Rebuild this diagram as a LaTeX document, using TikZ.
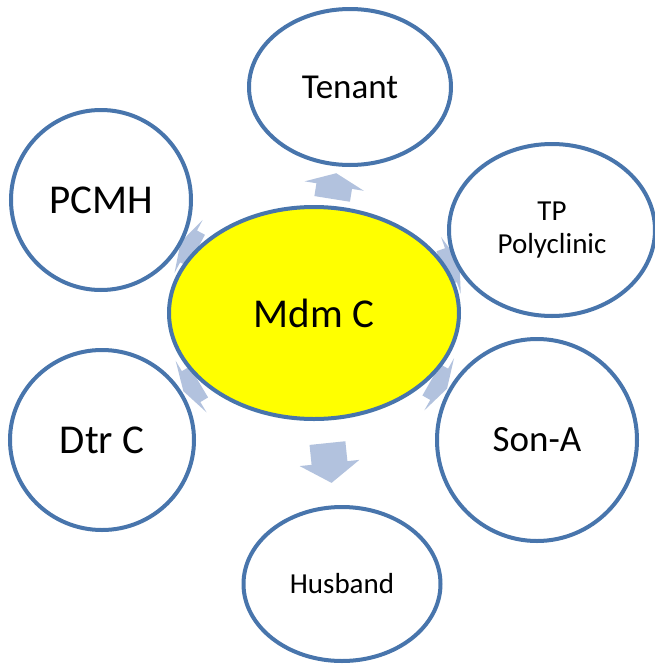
\documentclass[tikz,border=0pt]{standalone}
\usepackage{fontspec}
\setmainfont{Carlito}
\usetikzlibrary{shapes.geometric}
\pgfdeclarelayer{background}
\pgfsetlayers{background,main}

\definecolor{ringblue}{RGB}{72,117,172}
\definecolor{arrowfill}{RGB}{178,194,222}
\definecolor{hubyellow}{RGB}{255,255,0}

\tikzset{
  bubble/.style={ellipse, draw=ringblue, line width=4pt, fill=white,
    inner sep=0pt, align=center, text=black},
  hub/.style={bubble, fill=hubyellow},
  % block arrow pointing along +x, total length #1, centred on the origin
  blockarrow/.pic={
    \fill[arrowfill]
      ({-#1/2},18) -- ({#1/2-#1/2},18) -- ({#1/2-#1/2},30) -- ({#1/2},0)
      -- ({#1/2-#1/2},-30) -- ({#1/2-#1/2},-18) -- ({-#1/2},-18) -- cycle;
  }
}

\begin{document}
\begin{tikzpicture}[x=1pt,y=-1pt]
\begin{pgfonlayer}{background}
  \fill[white] (0,0) rectangle (655,667);
\end{pgfonlayer}
\useasboundingbox (0,0) rectangle (655,667);

% central person
\node[hub, minimum width=290pt, minimum height=212pt, font=\fontsize{41}{45}\selectfont]
  (mdm) at (314,313) {\raisebox{-5pt}{Mdm C}};

% surrounding contacts
\node[bubble, minimum width=202pt, minimum height=156pt, font=\fontsize{35}{40}\selectfont]
  (ten) at (350,87) {Tenant};
\node[bubble, minimum width=180pt, minimum height=180pt, font=\fontsize{41}{45}\selectfont]
  (pcmh) at (101,200) {PCMH};
\node[bubble, minimum width=206pt, minimum height=172pt, font=\fontsize{29}{33}\selectfont]
  (tp) at (552,230) {TP\\Polyclinic};
\node[bubble, minimum width=184pt, minimum height=180pt, font=\fontsize{41}{45}\selectfont]
  (dtr) at (102,440) {Dtr C};
\node[bubble, minimum width=200pt, minimum height=202pt, font=\fontsize{37}{42}\selectfont]
  (son) at (537,440) {Son-A};
\node[bubble, minimum width=197pt, minimum height=154pt, font=\fontsize{29}{33}\selectfont]
  (hus) at (342,584) {Husband};

% outward arrows, tucked behind the bubbles
\begin{pgfonlayer}{background}
  \path (mdm) -- (ten)  pic[pos=0.5, sloped, allow upside down] {blockarrow=26};
  \path (mdm) -- (pcmh) pic[pos=0.5, sloped, allow upside down] {blockarrow=18};
  \path (mdm) -- (tp)   pic[pos=0.5, sloped, allow upside down] {blockarrow=18};
  \path (mdm) -- (dtr)  pic[pos=0.5, sloped, allow upside down] {blockarrow=18};
  \path (mdm) -- (son)  pic[pos=0.5, sloped, allow upside down] {blockarrow=18};
  \path (mdm) -- (hus)  pic[pos=0.5, sloped, allow upside down] {blockarrow=40};
\end{pgfonlayer}
\end{tikzpicture}
\end{document}
